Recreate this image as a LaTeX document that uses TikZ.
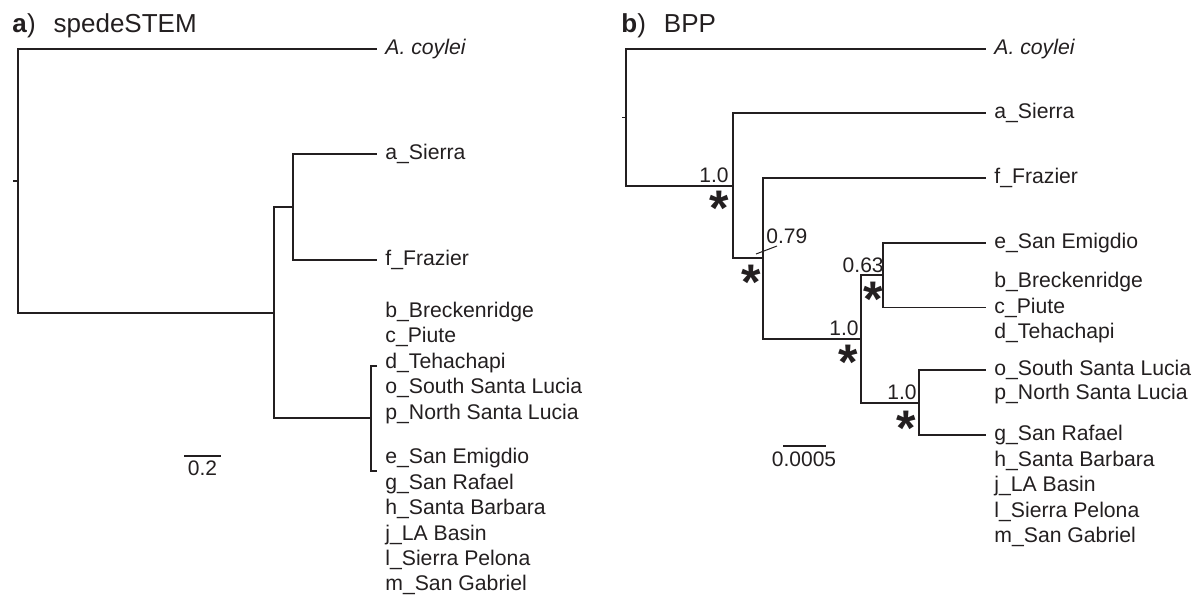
\documentclass[tikz,border=0pt]{standalone}
\usepackage{fontspec}
\setmainfont{Liberation Sans}
\usepackage{tikz}
\definecolor{TreeInk}{HTML}{231F20}

\begin{document}
\begin{tikzpicture}[
    x=0.5pt, y=-0.5pt,
    leaf/.style={
      anchor=west, inner xsep=4pt, inner ysep=0pt, text height=7.5pt,
      text depth=2pt, text=TreeInk, font=\fontsize{10.6}{12}\selectfont
    },
    title/.style={
      anchor=base west, inner sep=0pt, text=TreeInk,
      font=\fontsize{13}{15}\selectfont
    },
    pp/.style={inner sep=0pt, text=TreeInk, font=\fontsize{10.5}{12}\selectfont},
    supp/.style={
      anchor=north, inner sep=0pt, text=TreeInk,
      font=\fontsize{25}{25}\selectfont\bfseries
    },
    branch/.style={draw=TreeInk, line width=1pt},
    branchb/.style={draw=TreeInk, line width=0.85pt}
  ]
    \useasboundingbox (0,0) rectangle (1197,596);

    \node[title] (ta) at (12,32) {\textbf{a})\hspace{9pt}spedeSTEM};
    \node[leaf] (acoyA) at (377,49) {\textit{A. coylei}};
    \node[leaf] (sierraA) at (377,154) {a\_Sierra};
    \node[leaf] (frazierA) at (377,260) {f\_Frazier};
    \node[leaf] (breckA) at (377,312) {b\_Breckenridge};
    \node[leaf] (piuteA) at (377,337.4) {c\_Piute};
    \node[leaf] (tehaA) at (377,362.8) {d\_Tehachapi};
    \node[leaf] (southA) at (377,388.2) {o\_South Santa Lucia};
    \node[leaf] (northA) at (377,413.6) {p\_North Santa Lucia};
    \node[leaf] (emigA) at (377,458.4) {e\_San Emigdio};
    \node[leaf] (rafaelA) at (377,483.8) {g\_San Rafael};
    \node[leaf] (barbA) at (377,509.2) {h\_Santa Barbara};
    \node[leaf] (basinA) at (377,534.6) {j\_LA Basin};
    \node[leaf] (pelonaA) at (377,560) {l\_Sierra Pelona};
    \node[leaf] (gabrielA) at (377,585.4) {m\_San Gabriel};

    \coordinate (ra0) at (13,181);
    \coordinate (ra) at (18,181);
    \coordinate (na1) at (274,313);
    \coordinate (na2) at (293,207);
    \coordinate (brk) at (371,418);
    \coordinate (brkT) at (377,366);
    \coordinate (brkB) at (377,471);
    \coordinate (sa1) at (184,456);
    \coordinate (sa2) at (221,456);

    \draw[branch] (ra0) -- (ra);
    \draw[branch] (ra) |- (acoyA.west);
    \draw[branch] (ra) |- (na1);
    \draw[branch] (na1) |- (na2);
    \draw[branch] (na1) |- (brk);
    \draw[branch] (na2) |- (sierraA.west);
    \draw[branch] (na2) |- (frazierA.west);
    \draw[branch] (brkT) -| (brk) |- (brkB);
    \draw[branch] (sa1) -- (sa2);
    \node[pp, anchor=base] (sbA) at (202.5,475) {0.2};

    \node[title] (tb) at (621,32) {\textbf{b})\hspace{9pt}BPP};
    \node[leaf] (acoyB) at (986,49) {\textit{A. coylei}};
    \node[leaf] (sierraB) at (986,113) {a\_Sierra};
    \node[leaf] (frazierB) at (986,178) {f\_Frazier};
    \node[leaf] (emigB) at (986,243) {e\_San Emigdio};
    \node[leaf] (breckB) at (986,282) {b\_Breckenridge};
    \node[leaf] (piuteB) at (986,307.5) {c\_Piute};
    \node[leaf] (tehaB) at (986,333) {d\_Tehachapi};
    \node[leaf] (southB) at (986,370) {o\_South Santa Lucia};
    \node[leaf] (northB) at (986,394) {p\_North Santa Lucia};
    \node[leaf] (rafaelB) at (986,435) {g\_San Rafael};
    \node[leaf] (barbB) at (986,460.5) {h\_Santa Barbara};
    \node[leaf] (basinB) at (986,486) {j\_LA Basin};
    \node[leaf] (pelonaB) at (986,511.5) {l\_Sierra Pelona};
    \node[leaf] (gabrielB) at (986,537) {m\_San Gabriel};

    \coordinate (rb0) at (622,117.5);
    \coordinate (rb) at (626,117.5);
    \coordinate (nb1) at (733,186);
    \coordinate (nb2) at (763,258);
    \coordinate (nb3) at (861,339);
    \coordinate (nb4) at (883,275);
    \coordinate (nb5) at (919,403);
    \coordinate (l79a) at (756,254);
    \coordinate (l79b) at (777,246);
    \coordinate (sb1) at (783,446);
    \coordinate (sb2) at (826,446);

    \draw[branchb] (rb0) -- (rb);
    \draw[branchb] (rb) |- (acoyB.west);
    \draw[branchb] (rb) |- (nb1);
    \draw[branchb] (nb1) |- (sierraB.west);
    \draw[branchb] (nb1) |- (nb2);
    \draw[branchb] (nb2) |- (frazierB.west);
    \draw[branchb] (nb2) |- (nb3);
    \draw[branchb] (nb3) |- (nb4);
    \draw[branchb] (nb3) |- (nb5);
    \draw[branchb] (nb4) |- (emigB.west);
    \draw[branchb] (nb4) |- (piuteB.west);
    \draw[branchb] (nb5) |- (southB.west);
    \draw[branchb] (nb5) |- (rafaelB.west);
    \draw[draw=TreeInk, line width=0.5pt] (l79a) -- (l79b);
    \draw[branchb] (sb1) -- (sb2);
    \node[pp, anchor=base] (sbB) at (804,466) {0.0005};

    \node[pp, anchor=base east] (pp1) at (729,182) {1.0};
    \node[pp, anchor=base west] (pp2) at (766,243) {0.79};
    \node[pp, anchor=base east] (pp4) at (884,272) {0.63};
    \node[pp, anchor=base east] (pp3) at (859,335) {1.0};
    \node[pp, anchor=base east] (pp5) at (917,399) {1.0};
    \node[supp] (st1) at (719,191) {*};
    \node[supp] (st2) at (751,265) {*};
    \node[supp] (st4) at (873,282) {*};
    \node[supp] (st3) at (848,345) {*};
    \node[supp] (st5) at (906,411) {*};
  \end{tikzpicture}
\end{document}
